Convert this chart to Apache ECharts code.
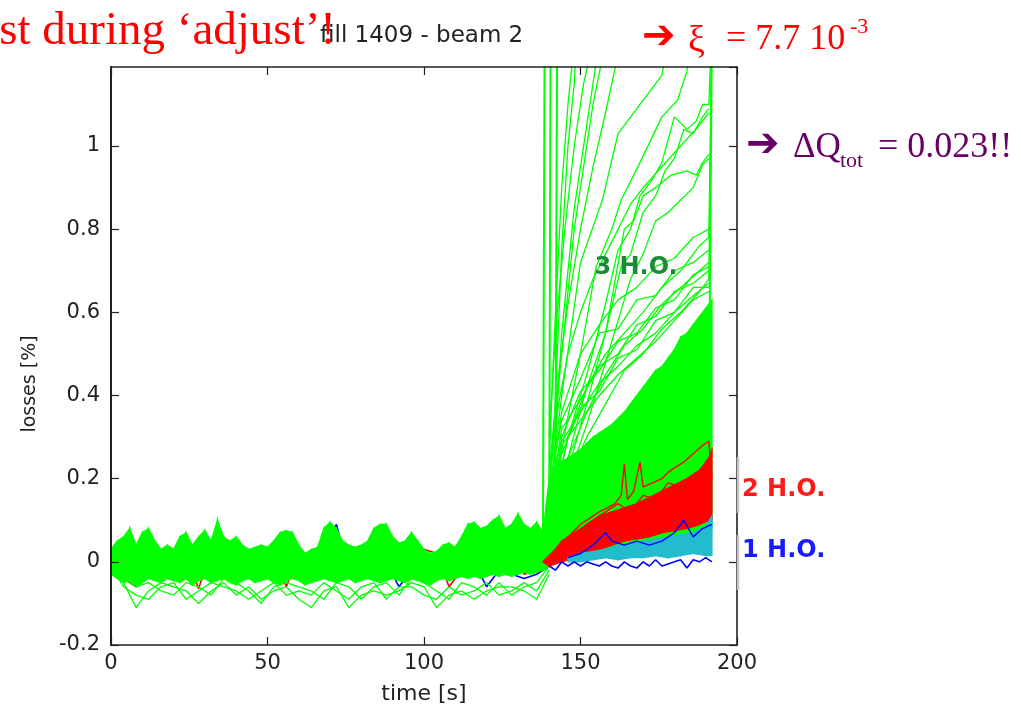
<!DOCTYPE html>
<html>
<head>
<meta charset="utf-8">
<script src="https://cdn.jsdelivr.net/npm/echarts@6/dist/echarts.min.js"></script>
<style>
html,body{margin:0;padding:0;background:#fff;}
#chart{width:1021px;height:710px;}
</style>
</head>
<body>
<div id="chart"></div>
<script>
// ---------------- data ----------------
const xTicks = [0, 50, 100, 150, 200];
const yTicks = [-0.2, 0, 0.2, 0.4, 0.6, 0.8, 1];

// dense green band, 2 s sampling
const tBand = [0,2,4,6,8,10,12,14,16,18,20,22,24,26,28,30,32,34,36,38,40,42,44,46,48,50,52,54,56,58,60,62,64,66,68,70,72,74,76,78,80,82,84,86,88,90,92,94,96,98,100,102,104,106,108,110,112,114,116,118,120,122,124,126,128,130,132,134,136,138,140,142,144,146,148,150,152,154,156,158,160,162,164,166,168,170,172,174,176,178,180,182,184,186,188,190,192];
const greenBandHi = [0.03,0.05,0.06,0.08,0.04,0.07,0.08,0.05,0.03,0.04,
  0.03,0.06,0.07,0.04,0.06,0.075,0.05,0.10,0.06,0.05,
  0.06,0.04,0.03,0.035,0.04,0.035,0.05,0.07,0.075,0.07,
  0.04,0.02,0.03,0.035,0.08,0.095,0.08,0.05,0.04,0.035,
  0.04,0.05,0.08,0.09,0.09,0.06,0.045,0.05,0.07,0.05,
  0.03,0.02,0.025,0.04,0.045,0.035,0.06,0.09,0.095,0.08,
  0.085,0.10,0.11,0.08,0.09,0.115,0.09,0.08,0.095,0.07,
  0.2,0.23,0.24,0.25,0.26,0.27,0.285,0.3,0.31,0.32,0.33,0.345,0.36,0.38,0.4,0.42,0.44,0.46,0.47,0.49,0.51,0.54,0.55,0.57,0.59,0.61,0.63];
const greenBandLo = [-0.03,-0.04,-0.05,-0.045,-0.06,-0.05,-0.04,-0.045,-0.05,-0.04,
  -0.045,-0.05,-0.04,-0.055,-0.045,-0.04,-0.05,-0.045,-0.04,-0.05,
  -0.055,-0.045,-0.04,-0.05,-0.045,-0.04,-0.05,-0.055,-0.045,-0.04,
  -0.045,-0.055,-0.05,-0.045,-0.04,-0.045,-0.05,-0.045,-0.04,-0.05,
  -0.045,-0.04,-0.045,-0.05,-0.045,-0.04,-0.045,-0.05,-0.04,-0.045,
  -0.05,-0.055,-0.045,-0.04,-0.045,-0.04,-0.035,-0.04,-0.035,-0.04,
  -0.035,-0.03,-0.035,-0.03,-0.035,-0.03,-0.025,-0.03,-0.025,-0.02,
  -0.01,0.0,0.0,0.005,0.01,0.01,0.015,0.02,0.02,0.025,0.03,0.03,0.035,0.04,0.04,0.045,0.05,0.05,0.055,0.06,0.06,0.065,0.07,0.07,0.075,0.08,0.08];

// individual lines before the jump, 4 s sampling
const tPre = [0,4,8,12,16,20,24,28,32,36,40,44,48,52,56,60,64,68,72,76,80,84,88,92,96,100,104,108,112,116,120,124,128,132,136,140];
const greenLow1 = [-0.02,-0.05,-0.11,-0.07,-0.05,-0.06,-0.07,-0.10,-0.07,-0.05,-0.08,-0.06,-0.09,-0.07,-0.06,-0.09,-0.11,-0.07,-0.06,-0.11,-0.08,-0.07,-0.08,-0.07,-0.05,-0.06,-0.11,-0.08,-0.07,-0.09,-0.07,-0.06,-0.06,-0.07,-0.09,-0.03];
const greenLow2 = [-0.01,-0.06,-0.08,-0.09,-0.06,-0.05,-0.09,-0.07,-0.05,-0.06,-0.07,-0.09,-0.07,-0.05,-0.08,-0.07,-0.08,-0.05,-0.07,-0.09,-0.06,-0.05,-0.09,-0.06,-0.06,-0.08,-0.09,-0.06,-0.08,-0.07,-0.05,-0.08,-0.07,-0.05,-0.07,-0.02];
const greenLow3 = [-0.03,-0.04,-0.06,-0.05,-0.07,-0.08,-0.05,-0.06,-0.08,-0.04,-0.05,-0.07,-0.10,-0.06,-0.05,-0.06,-0.07,-0.09,-0.05,-0.06,-0.09,-0.06,-0.05,-0.08,-0.04,-0.05,-0.07,-0.09,-0.05,-0.06,-0.08,-0.05,-0.08,-0.06,-0.05,-0.01];
const redPre = [0.0,-0.04,-0.06,0.03,0.025,-0.04,0.02,-0.065,0.03,-0.04,0.02,0.01,-0.04,0.02,-0.06,0.02,-0.04,0.01,0.03,-0.04,0.02,-0.03,0.03,0.02,-0.04,0.03,0.02,-0.06,-0.02,0.04,-0.03,0.02,0.04,-0.03,-0.02,0.0];
const bluePre = [-0.02,0.02,-0.06,0.04,-0.03,-0.02,-0.04,0.0,-0.03,0.03,-0.04,-0.02,-0.03,0.0,-0.04,-0.02,-0.045,0.03,0.09,-0.02,-0.04,-0.03,0.0,-0.06,-0.02,-0.03,-0.02,-0.04,-0.03,0.0,-0.06,-0.02,-0.03,-0.04,-0.03,-0.01];

// green lines that climb after ~140 s (each with its own times)
const gV1T = [136,138,138.6], gV1 = [0.03,0.06,1.4];
const gV2T = [138,140,140.5], gV2 = [0.04,0.1,1.4];
const gV3T = [140,142,142.6], gV3 = [0.05,0.2,1.4];
const gAT = [140,142,144,146,148,149], gA = [0.1,0.4,0.75,1.0,1.15,1.3];
const gBT = [140,142,144,148,152,156], gB = [0.08,0.3,0.55,0.85,1.05,1.25];
const gMT = [140,144,148,152,154,158], gM = [0.2,0.5,0.8,1.0,1.1,1.25];
const gNT = [140,142,144,146,148], gN = [0.25,0.6,0.9,1.1,1.25];
const gCT = [140,144,150,157,162,169,176,178], gC = [0.15,0.4,0.72,0.87,1.03,1.1,1.17,1.25];
const gDT = [140,146,150,155,160,163,169,176,181,184,185], gD = [0.1,0.35,0.5,0.71,0.8,0.87,0.96,1.07,1.11,1.18,1.25];
const gET = [140,146,152,158,162,166,169,173,176,180,184,187,189,191,192], gE = [0.08,0.3,0.45,0.62,0.75,0.8,0.88,0.92,0.96,1.07,1.04,1.06,1.1,1.1,1.3];
const gFT = [140,146,152,158,163,166,170,174,177,180,183,186,189,191], gF = [0.07,0.25,0.42,0.55,0.71,0.74,0.84,0.88,0.94,0.97,1.04,1.03,1.07,1.09];
const gGT = [140,146,152,158,164,167,170,174,179,184,187,189,191], gG = [0.06,0.22,0.38,0.55,0.8,0.82,0.88,0.9,0.93,0.94,0.93,0.96,0.98];
const gHT = [140,146,152,158,162,166,170,174,178,182,186,189,191], gH = [0.05,0.2,0.33,0.48,0.58,0.68,0.74,0.82,0.84,0.87,0.9,0.955,0.97];
const gIT = [140,146,152,158,164,170,176,182,188,191,192], gI = [0.1,0.3,0.42,0.5,0.55,0.6,0.66,0.7,0.76,0.78,1.3];
const gJT = [140,146,152,158,164,170,176,182,188,191], gJ = [0.08,0.25,0.36,0.45,0.52,0.56,0.62,0.66,0.7,0.72];
const gKT = [140,146,152,158,164,170,176,182,188,191,192], gK = [0.06,0.2,0.3,0.38,0.46,0.5,0.56,0.6,0.65,0.68,1.3];
const gZT = [188,191,192], gZ = [0.3,0.32,1.3];
const tMid = [140,144,150,156,162,168,174,180,186,191];
const gQ1 = [0.18,0.34,0.44,0.55,0.56,0.63,0.64,0.7,0.72,0.75];
const gQ2 = [0.14,0.3,0.41,0.46,0.53,0.55,0.61,0.63,0.69,0.71];
const gQ3 = [0.16,0.36,0.5,0.57,0.63,0.66,0.71,0.73,0.78,0.8];
const gQ4 = [0.12,0.26,0.37,0.41,0.49,0.51,0.58,0.6,0.66,0.66];
const gR1 = [0.1,0.28,0.34,0.4,0.45,0.49,0.53,0.58,0.63,0.65];
const gR2 = [0.13,0.32,0.39,0.47,0.5,0.57,0.59,0.65,0.67,0.7];
const gR3 = [0.11,0.29,0.36,0.43,0.47,0.52,0.55,0.6,0.64,0.67];
const gQ5T = [140,143,146,150,154,158,162,166,170,176,182,188,191], gQ5 = [0.2,0.38,0.5,0.6,0.68,0.74,0.8,0.86,0.9,0.95,1.0,1.05,1.08];
const gQ6T = [140,143,146,150,154,158,162], gQ6 = [0.22,0.45,0.62,0.8,0.95,1.08,1.22];
const gQ7T = [140,142,145,148,151,154], gQ7 = [0.3,0.55,0.8,1.0,1.15,1.25];

// red band and red lines
const tRed = [138,140,144,148,152,156,160,164,168,172,176,180,184,188,191,192];
const redLo = [0.0,-0.01,0.0,0.01,0.02,0.03,0.04,0.05,0.055,0.06,0.07,0.075,0.08,0.09,0.1,0.1];
const redHi = [0.0,0.01,0.05,0.07,0.09,0.11,0.12,0.13,0.14,0.155,0.17,0.185,0.2,0.22,0.25,0.27];
const redTopT = [138,142,146,150,153,156,158.6,161,163,164,165,167,169,170,173,176,178,180,183,186,189,191,192];
const redTop = [0.0,0.03,0.06,0.09,0.105,0.12,0.13,0.14,0.16,0.235,0.15,0.17,0.24,0.18,0.19,0.2,0.215,0.226,0.24,0.26,0.28,0.29,0.2];
const red2T = [140,146,152,158,162,166,170,174,178,182,186,190,192];
const red2 = [0.0,0.05,0.09,0.12,0.14,0.12,0.16,0.15,0.19,0.18,0.21,0.23,0.26];

// cyan band
const tCyan = [146,150,154,158,162,166,170,174,178,182,186,190,192];
const cyanLo = [0.0,0.0,0.005,0.01,0.005,0.01,0.01,0.015,0.01,0.015,0.02,0.015,0.015];
const cyanHi = [0.01,0.02,0.025,0.03,0.04,0.045,0.05,0.055,0.06,0.065,0.07,0.085,0.11];

// blue lines after the jump
const tBlue = [140,142,144,146,148,150,152,154,156,158,160,162,164,166,168,170,172,174,176,178,180,182,184,186,188,190,192];
const blueLow = [-0.01,-0.02,0.0,-0.01,0.0,-0.01,0.0,-0.005,-0.01,0.0,-0.01,-0.015,0.0,-0.01,-0.015,0.0,-0.01,0.005,-0.01,-0.005,0.0,0.005,-0.015,0.005,0.0,0.01,0.0];
const tBlueTop = [146,150,154,158,160,164,168,172,176,180,183,186,189,192];
const blueTop = [0.01,0.02,0.04,0.07,0.05,0.04,0.05,0.04,0.05,0.07,0.1,0.06,0.08,0.09];

// ---------------- build ----------------
const GREEN = '#00ff00', RED = '#ff0000', BLUE = '#0000ff', CYAN = '#22bccc';
function pairs(t, v) { return t.map((x, i) => [x, v[i]]); }
function line(t, v, color, width, z) {
  return { type: 'line', z: z, data: pairs(t, v), symbol: 'none', showSymbol: false,
    lineStyle: { color: color, width: width || 1.3 }, itemStyle: { color: color },
    silent: true, animation: false, clip: true };
}
// filled band between two boundaries, drawn segment by segment through the axis scales
function band(t, lo, hi, color, z) {
  return {
    type: 'custom', z: z, silent: true, animation: false, clip: true,
    data: t.map((x, i) => [x, lo[i], hi[i]]),
    encode: { x: 0, y: [1, 2] },
    renderItem: function (params, api) {
      const i = params.dataIndexInside;
      if (i >= params.dataInsideLength - 1) return null;
      const a = api.coord([api.value(0, i), api.value(1, i)]);
      const b = api.coord([api.value(0, i), api.value(2, i)]);
      const c = api.coord([api.value(0, i + 1), api.value(2, i + 1)]);
      const d = api.coord([api.value(0, i + 1), api.value(1, i + 1)]);
      return { type: 'polygon', shape: { points: [a, b, c, d] },
        style: { fill: color, stroke: color, lineWidth: 1.3 } };
    }
  };
}

const series = [].concat(
  [line(tPre, redPre, RED, 1.6, 1), line(tPre, bluePre, BLUE, 1.6, 1)],
  [band(tBand, greenBandLo, greenBandHi, GREEN, 2)],
  [line(tPre, greenLow1, GREEN, 1.3, 3), line(tPre, greenLow2, GREEN, 1.3, 3), line(tPre, greenLow3, GREEN, 1.3, 3)],
  [line(gV1T, gV1, GREEN, 2, 3), line(gV2T, gV2, GREEN, 2, 3), line(gV3T, gV3, GREEN, 2, 3),
   line(gAT, gA, GREEN, 1.3, 3), line(gBT, gB, GREEN, 1.3, 3), line(gMT, gM, GREEN, 1.3, 3), line(gNT, gN, GREEN, 1.3, 3),
   line(gCT, gC, GREEN, 1.3, 3), line(gDT, gD, GREEN, 1.3, 3), line(gET, gE, GREEN, 1.3, 3), line(gFT, gF, GREEN, 1.3, 3),
   line(gGT, gG, GREEN, 1.3, 3), line(gHT, gH, GREEN, 1.3, 3), line(gIT, gI, GREEN, 1.3, 3), line(gJT, gJ, GREEN, 1.3, 3),
   line(gKT, gK, GREEN, 1.3, 3), line(gZT, gZ, GREEN, 2, 3),
   line(tMid, gQ1, GREEN, 1.3, 3), line(tMid, gQ2, GREEN, 1.3, 3), line(tMid, gQ3, GREEN, 1.3, 3), line(tMid, gQ4, GREEN, 1.3, 3),
   line(tMid, gR1, GREEN, 1.3, 3), line(tMid, gR2, GREEN, 1.3, 3), line(tMid, gR3, GREEN, 1.3, 3),
   line(gQ5T, gQ5, GREEN, 1.3, 3), line(gQ6T, gQ6, GREEN, 1.3, 3), line(gQ7T, gQ7, GREEN, 1.3, 3)],
  [band(tRed, redLo, redHi, RED, 4)],
  [line(redTopT, redTop, RED, 1.4, 5), line(red2T, red2, RED, 1.4, 5)],
  [band(tCyan, cyanLo, cyanHi, CYAN, 6)],
  [line(tBlue, blueLow, BLUE, 1.6, 7), line(tBlueTop, blueTop, BLUE, 1.4, 7)]
);

const AX = '#222';
const labelFont = { fontFamily: 'DejaVu Sans', fontSize: 21, color: '#222' };
function txt(x, y, text, fill, font, align, extra) {
  return Object.assign({ type: 'text', z: 101, x: x, y: y,
    style: { text: text, fill: fill, font: font, textAlign: align || 'left', textVerticalAlign: 'middle',
      align: align || 'left', verticalAlign: 'middle' } }, extra || {});
}
const option = {
  backgroundColor: '#fff',
  animation: false,
  grid: { left: 111, right: 284, top: 67, bottom: 65, containLabel: false, outerBoundsMode: 'none' },
  xAxis: [
    { type: 'value', min: xTicks[0], max: xTicks[xTicks.length - 1], interval: 50, position: 'bottom', z: 20,
      axisLine: { show: true, onZero: false, lineStyle: { color: AX, width: 1.6 } },
      axisTick: { show: true, inside: true, length: 8, lineStyle: { color: AX, width: 1.2 } },
      axisLabel: Object.assign({ margin: 8 }, labelFont),
      splitLine: { show: false },
      name: 'time [s]', nameLocation: 'middle', nameGap: 38,
      nameTextStyle: { fontFamily: 'DejaVu Sans', fontSize: 22, color: '#222' } },
    { type: 'value', min: 0, max: 200, interval: 50, position: 'top', z: 20,
      axisLine: { show: true, onZero: false, lineStyle: { color: AX, width: 1.6 } },
      axisTick: { show: true, inside: true, length: 8, lineStyle: { color: AX, width: 1.2 } },
      axisLabel: { show: false }, splitLine: { show: false } }
  ],
  yAxis: [
    { type: 'value', min: yTicks[0], max: 1.19, interval: 0.2, position: 'left', z: 20,
      axisLine: { show: true, onZero: false, lineStyle: { color: AX, width: 2 } },
      axisTick: { show: true, inside: true, length: 8, lineStyle: { color: AX, width: 1.2 } },
      axisLabel: Object.assign({ margin: 11, showMaxLabel: false,
        formatter: v => { const r = Math.round(v * 10) / 10; return yTicks.indexOf(r) >= 0 ? String(r) : ''; } }, labelFont),
      splitLine: { show: false } },
    { type: 'value', min: -0.2, max: 1.19, interval: 0.2, position: 'right', z: 20,
      axisLine: { show: true, onZero: false, lineStyle: { color: AX, width: 1.6 } },
      axisTick: { show: true, inside: true, length: 8, lineStyle: { color: AX, width: 1.2 } },
      axisLabel: { show: false }, splitLine: { show: false } }
  ],
  series: series,
  graphic: { elements: [
    { type: 'line', z: 100, shape: { x1: 738, y1: 457, x2: 738, y2: 513 }, style: { stroke: '#c4c4c4', lineWidth: 2.5 } },
    { type: 'line', z: 100, shape: { x1: 738, y1: 535, x2: 738, y2: 590 }, style: { stroke: '#c4c4c4', lineWidth: 2.5 } },
    txt(30, 384, 'losses [%]', '#222', '19px "DejaVu Sans"', 'center', { rotation: Math.PI / 2 }),
    txt(320, 36, 'fill 1409 - beam 2', '#222', '23px "DejaVu Sans"', 'left'),
    txt(336, 32, 'st during \u2018adjust\u2019!', '#ff0000', '47px "Liberation Serif"', 'right'),
    txt(642, 38, '\u2794', '#ff0000', '40px "DejaVu Sans"', 'left'),
    txt(688, 42, '\u03BE', '#ff0000', '38px "Liberation Serif"', 'left'),
    txt(726, 40, '= 7.7 10', '#ff0000', '36px "Liberation Serif"', 'left'),
    txt(850, 27, '-3', '#ff0000', '22px "Liberation Serif"', 'left'),
    txt(746, 146, '\u2794', '#660066', '40px "DejaVu Sans"', 'left'),
    txt(793, 148, '\u0394Q', '#660066', '35px "Liberation Serif"', 'left'),
    txt(840, 161, 'tot', '#660066', '22px "Liberation Serif"', 'left'),
    txt(878, 148, '= 0.023!!', '#660066', '36px "Liberation Serif"', 'left'),
    txt(636, 268, '3 H.O.', '#1d8a38', 'bold 24px "DejaVu Sans"', 'center'),
    txt(742, 490, '2 H.O.', '#ff1a1a', 'bold 24px "DejaVu Sans"', 'left'),
    txt(742, 551, '1 H.O.', '#1a1aff', 'bold 24px "DejaVu Sans"', 'left')
  ] }
};
const chart = echarts.init(document.getElementById('chart'), null, { renderer: 'canvas' });
chart.setOption(option);
</script>
</body>
</html>
